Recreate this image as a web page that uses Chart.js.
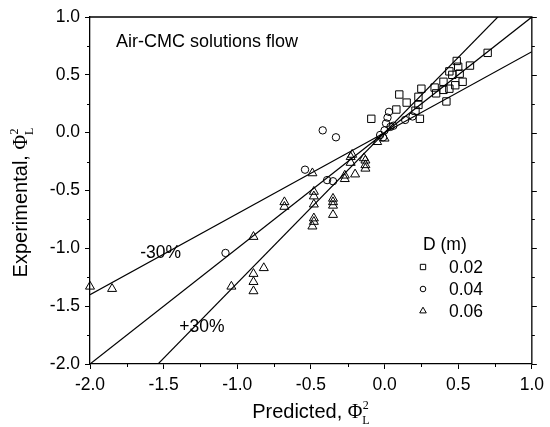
<!DOCTYPE html>
<html>
<head>
<meta charset="utf-8">
<script src="https://cdn.jsdelivr.net/npm/chart.js@4/dist/chart.umd.min.js"></script>
<style>
  body { margin: 0; background: #fff; }
  #chart { display: block; }
</style>
</head>
<body>
<canvas id="chart" width="550" height="427"></canvas>
<script>
// Predicted (x) vs experimental (y) Phi_L^2, one list per pipe diameter D (m)
var seriesNames = [ '0.02', '0.04', '0.06' ];
var squaresD002 = [
    [ 0.70, 0.69 ], [ 0.49, 0.62 ], [ 0.50, 0.57 ], [ 0.58, 0.58 ], [ 0.44, 0.53 ],
    [ 0.46, 0.50 ], [ 0.51, 0.51 ], [ 0.40, 0.44 ], [ 0.53, 0.44 ], [ 0.34, 0.39 ],
    [ 0.25, 0.38 ], [ 0.40, 0.37 ], [ 0.48, 0.41 ], [ 0.35, 0.34 ], [ 0.44, 0.38 ],
    [ 0.10, 0.33 ], [ 0.15, 0.26 ], [ 0.23, 0.31 ], [ 0.23, 0.24 ], [ 0.42, 0.27 ],
    [ 0.08, 0.20 ], [ -0.09, 0.12 ], [ 0.24, 0.12 ], [ 0.21, 0.19 ]
];
var circlesD004 = [
    [ -0.42, 0.02 ], [ -0.33, -0.04 ], [ 0.03, 0.18 ], [ 0.02, 0.13 ], [ 0.01, 0.08 ],
    [ 0.00, 0.02 ], [ -0.01, -0.04 ], [ 0.04, 0.05 ], [ 0.14, 0.11 ], [ 0.19, 0.14 ],
    [ -0.54, -0.32 ], [ -0.39, -0.41 ], [ -0.35, -0.42 ], [ -1.08, -1.04 ], [ 0.06, 0.06 ],
    [ -0.03, -0.02 ]
];
var trianglesD006 = [
    [ -2.00, -1.33 ], [ -1.85, -1.35 ], [ -1.04, -1.33 ], [ -0.89, -1.22 ], [ -0.82, -1.17 ],
    [ -0.89, -1.29 ], [ -0.89, -1.37 ], [ -0.89, -0.90 ], [ -0.68, -0.60 ], [ -0.68, -0.64 ],
    [ -0.49, -0.35 ], [ -0.48, -0.51 ], [ -0.48, -0.55 ], [ -0.48, -0.62 ], [ -0.48, -0.74 ],
    [ -0.48, -0.77 ], [ -0.49, -0.81 ], [ -0.35, -0.57 ], [ -0.35, -0.60 ], [ -0.35, -0.63 ],
    [ -0.35, -0.71 ], [ -0.27, -0.37 ], [ -0.27, -0.40 ], [ -0.23, -0.21 ], [ -0.23, -0.26 ],
    [ -0.20, -0.36 ], [ -0.13, -0.24 ], [ -0.13, -0.28 ], [ -0.13, -0.31 ], [ -0.22, -0.19 ],
    [ -0.14, -0.22 ], [ -0.05, -0.08 ], [ 0.00, -0.05 ]
];

// reference lines y = k * x (parity and +/-30 %)
var lineSlopes = [ 1.0, 1.3, 0.7 ];
var lineLabels = [ { text: '-30%', x: -1.52, y: -1.04 }, { text: '+30%', x: -1.24, y: -1.68 } ];

var axisMin = -2, axisMax = 1, majorStep = 0.5, minorStep = 0.25;
var sansFont = '"Liberation Sans", Arial, sans-serif';
var serifFont = '"Liberation Serif", "Times New Roman", serif';

function toPoints( list ) {
    return list.map( function( p ) { return { x: p[ 0 ], y: p[ 1 ] }; } );
}

var markerStyles = [
    { style: 'rect', radius: 5.2 },
    { style: 'circle', radius: 3.7 },
    { style: 'triangle', radius: 5.2 }
];
var seriesData = [ squaresD002, circlesD004, trianglesD006 ];

var datasets = [];
lineSlopes.forEach( function( k ) {
    datasets.push({
        type: 'line',
        data: [ { x: axisMin, y: k * axisMin }, { x: axisMax, y: k * axisMax } ],
        borderColor: '#000',
        borderWidth: 1.2,
        pointRadius: 0,
        fill: false
    });
});
seriesData.forEach( function( list, i ) {
    datasets.push({
        type: 'scatter',
        label: seriesNames[ i ],
        data: toPoints( list ),
        pointStyle: markerStyles[ i ].style,
        pointRadius: markerStyles[ i ].radius,
        borderColor: '#000',
        borderWidth: 1,
        backgroundColor: 'rgba(0,0,0,0)',
        clip: false
    });
});

/** Draws Phi with stacked superscript 2 and subscript L after a leading string */
function drawPhiTitle( ctx, lead, size ) {
    ctx.font = size + 'px ' + sansFont;
    var w1 = ctx.measureText( lead ).width;
    ctx.font = size + 'px ' + serifFont;
    var w2 = ctx.measureText( '\u03A6' ).width;
    var small = Math.round( size * 0.6 );
    ctx.font = small + 'px ' + serifFont;
    var w3 = ctx.measureText( 'L' ).width;
    var total = w1 + w2 + w3;
    var x = -total / 2;
    ctx.textBaseline = 'alphabetic';
    ctx.textAlign = 'left';
    ctx.font = size + 'px ' + sansFont;
    ctx.fillText( lead, x, 0 );
    ctx.font = size + 'px ' + serifFont;
    ctx.fillText( '\u03A6', x + w1, 0 );
    ctx.font = small + 'px ' + serifFont;
    ctx.fillText( '2', x + w1 + w2 + 0.5, -size * 0.45 );
    ctx.fillText( 'L', x + w1 + w2, size * 0.28 );
}

var decorations = {
    id: 'decorations',
    afterDraw: function( chart ) {
        var ctx = chart.ctx;
        var xs = chart.scales.x, ys = chart.scales.y;
        var area = chart.chartArea;
        var v;
        ctx.save();
        ctx.strokeStyle = '#000';
        ctx.fillStyle = '#000';

        // top and right frame
        ctx.lineWidth = 1.3;
        ctx.beginPath();
        ctx.moveTo( area.left, area.top );
        ctx.lineTo( area.right, area.top );
        ctx.lineTo( area.right, area.bottom );
        ctx.stroke();

        // minor ticks + ticks on right side
        ctx.lineWidth = 1;
        ctx.beginPath();
        for ( v = axisMin; v <= axisMax + 1e-9; v += minorStep ) {
            var major = Math.abs( v / majorStep - Math.round( v / majorStep ) ) < 1e-6;
            var len = major ? 5 : 3;
            var px = Math.round( xs.getPixelForValue( v ) ) + 0.5;
            var py = Math.round( ys.getPixelForValue( v ) ) + 0.5;
            if ( !major ) {
                ctx.moveTo( px, area.bottom );
                ctx.lineTo( px, area.bottom + len );
                ctx.moveTo( area.left, py );
                ctx.lineTo( area.left - len, py );
            }
            ctx.moveTo( area.right, py );
            ctx.lineTo( area.right + len, py );
        }
        ctx.stroke();

        // inset title
        ctx.font = '18px ' + sansFont;
        ctx.textAlign = 'left';
        ctx.textBaseline = 'alphabetic';
        ctx.fillText( 'Air-CMC solutions flow', 116, 47 );

        // +/-30 % labels
        ctx.font = '17.5px ' + sansFont;
        ctx.textAlign = 'center';
        ctx.textBaseline = 'middle';
        lineLabels.forEach( function( l ) {
            ctx.fillText( l.text, xs.getPixelForValue( l.x ), ys.getPixelForValue( l.y ) );
        });

        // legend (hollow symbols)
        ctx.textAlign = 'left';
        ctx.textBaseline = 'alphabetic';
        ctx.fillText( 'D (m)', 423, 250 );
        var legendSizes = [ 3.8, 2.8, 3.8 ];
        seriesNames.forEach( function( name, i ) {
            var cy = 267 + i * 22;
            ctx.save();
            ctx.lineWidth = 1;
            ctx.fillStyle = 'rgba(0,0,0,0)';
            Chart.helpers.drawPoint( ctx, {
                pointStyle: markerStyles[ i ].style,
                radius: legendSizes[ i ],
                rotation: 0,
                borderWidth: 1
            }, 423, cy );
            ctx.restore();
            ctx.fillText( name, 449, cy + 6 );
        });

        // axis titles
        ctx.save();
        ctx.translate( ( area.left + area.right ) / 2, 418 );
        drawPhiTitle( ctx, 'Predicted, ', 20 );
        ctx.restore();
        ctx.save();
        ctx.translate( 27, ( area.top + area.bottom ) / 2 + 12 );
        ctx.rotate( -Math.PI / 2 );
        drawPhiTitle( ctx, 'Experimental, ', 20 );
        ctx.restore();

        ctx.restore();
    }
};

function axisOptions( isX ) {
    return {
        type: 'linear',
        min: axisMin,
        max: axisMax,
        grid: { display: true, drawOnChartArea: false, drawTicks: true, tickLength: 5, color: '#000', lineWidth: 1 },
        border: { display: true, color: '#000', width: 1.3 },
        ticks: {
            stepSize: majorStep,
            color: '#000',
            padding: isX ? 6 : 5,
            font: { family: sansFont, size: 17.5 },
            callback: function( value ) { return Number( value ).toFixed( 1 ); }
        },
        afterFit: function( scale ) {
            if ( isX ) {
                scale.height = 63;
            } else {
                scale.width = 90;
            }
        }
    };
}

new Chart( document.getElementById( 'chart' ), {
    type: 'scatter',
    data: { datasets: datasets },
    options: {
        responsive: false,
        animation: false,
        devicePixelRatio: 1,
        layout: { padding: { top: 17, right: 13, left: 0, bottom: 0 } },
        plugins: { legend: { display: false }, tooltip: { enabled: false } },
        scales: { x: axisOptions( true ), y: axisOptions( false ) }
    },
    plugins: [ decorations ]
});
</script>
</body>
</html>
